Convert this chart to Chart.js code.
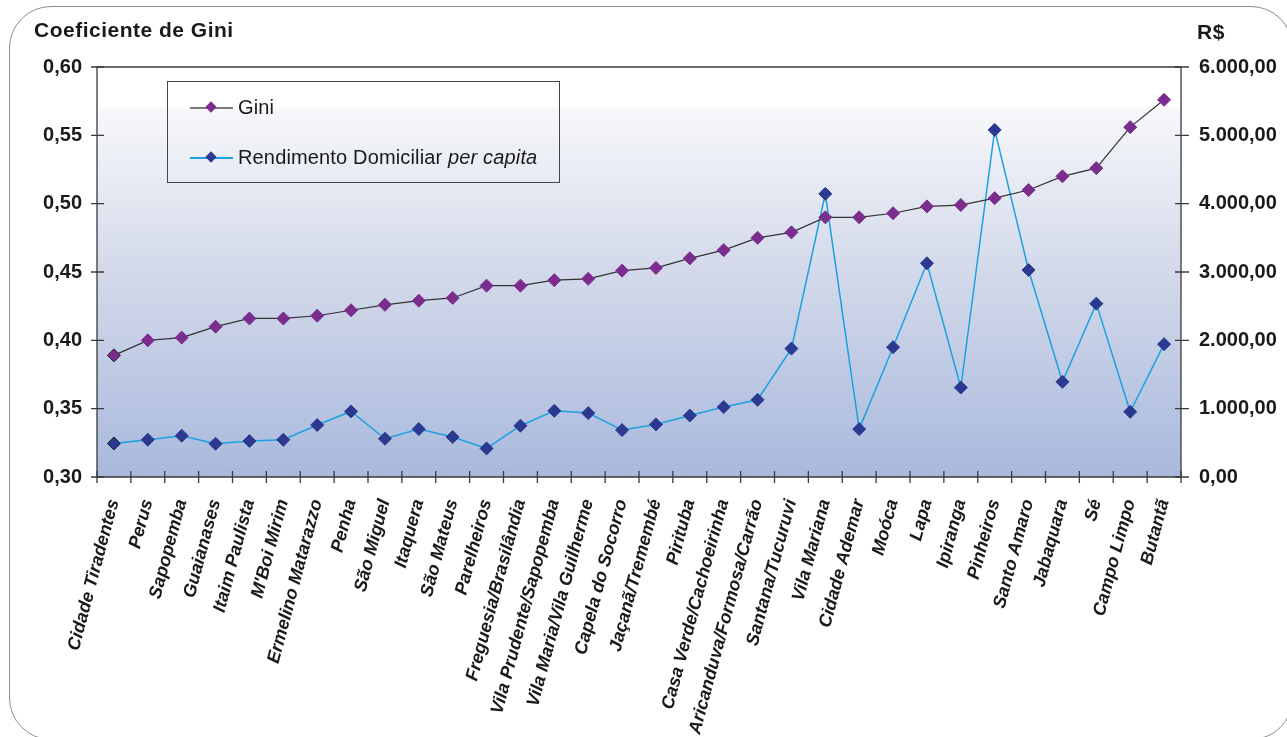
<!DOCTYPE html>
<html>
<head>
<meta charset="utf-8">
<script src="https://cdn.jsdelivr.net/npm/chart.js@4.4.1/dist/chart.umd.min.js"></script>
<style>
  body { margin: 0; background: #fff; font-family: "Liberation Sans", Arial, sans-serif; }
  #wrap { position: relative; width: 1287px; height: 737px; overflow: hidden; }
  #frame { position: absolute; left: 9px; top: 6px; width: 1284px; height: 734px; border: 1.5px solid #8c8c8c; border-radius: 42px; box-sizing: border-box; }
  #chart { position: absolute; left: 0; top: 0; }
  .ttl { position: absolute; font-weight: bold; font-size: 21px; color: #1a1a1a; line-height: 21px; letter-spacing: 0.5px; }
  #legend { position: absolute; left: 167px; top: 81px; width: 393px; height: 102px; border: 1px solid #454545; box-sizing: border-box; }
  .item { position: absolute; left: 22px; height: 20px; font-size: 20px; line-height: 20px; color: #1a1a1a; white-space: nowrap; letter-spacing: 0.15px; }
  .item .ln { position: absolute; left: 0; top: 10px; width: 43px; height: 1.5px; }
  .item .mk { position: absolute; left: 17px; top: 6px; width: 8px; height: 8px; transform: rotate(45deg); }
  .item .tx { position: absolute; left: 48px; top: 0; }
</style>
</head>
<body>
<div id="wrap">
  <div id="frame"></div>
  <canvas id="chart" width="1287" height="737"></canvas>
  <div class="ttl" style="left:34px;top:19px;">Coeficiente de Gini</div>
  <div class="ttl" style="left:1197px;top:21px;">R$</div>
  <div id="legend">
    <div class="item" style="top:15px;">
      <span class="ln" style="background:#7a7a7a"></span><span class="mk" style="background:#7b2d8e"></span>
      <span class="tx">Gini</span>
    </div>
    <div class="item" style="top:65px;">
      <span class="ln" style="background:#1ba1e2"></span><span class="mk" style="background:#2b3990"></span>
      <span class="tx">Rendimento Domiciliar <i>per capita</i></span>
    </div>
  </div>
</div>
<script>
// subprefeituras, ordenadas pelo Gini
const categorias = [
    'Cidade Tiradentes', 'Perus', 'Sapopemba', 'Guaianases', 'Itaim Paulista', "M'Boi Mirim",
    'Ermelino Matarazzo', 'Penha', 'São Miguel', 'Itaquera', 'São Mateus', 'Parelheiros',
    'Freguesia/Brasilândia', 'Vila Prudente/Sapopemba', 'Vila Maria/Vila Guilherme', 'Capela do Socorro',
    'Jaçanã/Tremembé', 'Pirituba', 'Casa Verde/Cachoeirinha', 'Aricanduva/Formosa/Carrão',
    'Santana/Tucuruvi', 'Vila Mariana', 'Cidade Ademar', 'Moóca', 'Lapa', 'Ipiranga',
    'Pinheiros', 'Santo Amaro', 'Jabaquara', 'Sé', 'Campo Limpo', 'Butantã'
];

const gini = [
    0.389, 0.400, 0.402, 0.410, 0.416, 0.416, 0.418, 0.422, 0.426, 0.429, 0.431, 0.440,
    0.440, 0.444, 0.445, 0.451, 0.453, 0.460, 0.466, 0.475, 0.479, 0.490, 0.490, 0.493,
    0.498, 0.499, 0.504, 0.510, 0.520, 0.526, 0.556, 0.576
];

// R$
const rendimento = [
    491, 545, 604, 487, 526, 545, 760, 959, 560, 701, 585, 418,
    750, 969, 935, 687, 769, 900, 1023, 1130, 1879, 4144, 701, 1900,
    3127, 1309, 5079, 3029, 1393, 2537, 954, 1944
];

const giniEixo = { min: 0.30, max: 0.60, passo: 0.05 };
const reaisEixo = { min: 0, max: 6000, passo: 1000 };

function formataReais(v) {
    const inteiro = Math.round(v).toString().replace(/\B(?=(\d{3})+(?!\d))/g, '.');
    return inteiro + ',00';
}

const corEixo = '#3a3a3a';

// fundo degradê da área do gráfico
const fundoPlugin = {
    id: 'fundo',
    beforeDatasetsDraw(chart) {
        const { ctx, chartArea: a } = chart;
        const g = ctx.createLinearGradient(0, a.top, 0, a.bottom);
        g.addColorStop(0, '#ffffff');
        g.addColorStop(0.098, '#ffffff');
        g.addColorStop(0.102, '#f7f8fb');
        g.addColorStop(0.5, '#d3d9ea');
        g.addColorStop(1, '#a9b9dd');
        ctx.save();
        ctx.fillStyle = g;
        ctx.fillRect(a.left, a.top, a.right - a.left, a.bottom - a.top);
        ctx.restore();
    }
};

// eixos com marcas cruzando a linha, como no original
const eixosPlugin = {
    id: 'eixos',
    afterDatasetsDraw(chart) {
        const { ctx, chartArea: a, scales } = chart;
        ctx.save();
        ctx.strokeStyle = corEixo;
        ctx.lineWidth = 1.3;
        ctx.beginPath();
        ctx.rect(a.left, a.top, a.right - a.left, a.bottom - a.top);
        ctx.stroke();

        ctx.beginPath();
        scales.y.ticks.forEach(t => {
            const y = scales.y.getPixelForValue(t.value);
            ctx.moveTo(a.left - 6, y); ctx.lineTo(a.left + 7, y);
        });
        scales.y1.ticks.forEach(t => {
            const y = scales.y1.getPixelForValue(t.value);
            ctx.moveTo(a.right - 6, y); ctx.lineTo(a.right + 8, y);
        });
        const passo = scales.x.getPixelForValue(1) - scales.x.getPixelForValue(0);
        for (let i = 0; i <= categorias.length; i++) {
            const x = scales.x.getPixelForValue(i) - passo / 2;
            ctx.moveTo(x, a.bottom - 6); ctx.lineTo(x, a.bottom + 6);
        }
        ctx.stroke();
        ctx.restore();
    }
};

const ctx = document.getElementById('chart').getContext('2d');
new Chart(ctx, {
    type: 'line',
    data: {
        labels: categorias,
        datasets: [{
            label: 'Gini',
            data: gini,
            yAxisID: 'y',
            borderColor: '#333333',
            borderWidth: 1.2,
            pointStyle: 'rectRot',
            pointRadius: 6.5,
            pointBackgroundColor: '#7b2d8e',
            pointBorderColor: c => c.dataIndex === 0 ? '#222' : '#7b2d8e',
            pointBorderWidth: 1,
            tension: 0
        }, {
            label: 'Rendimento Domiciliar per capita',
            data: rendimento,
            yAxisID: 'y1',
            borderColor: '#1ba1e2',
            borderWidth: 1.5,
            pointStyle: 'rectRot',
            pointRadius: 6.5,
            pointBackgroundColor: '#2b3990',
            pointBorderColor: c => c.dataIndex === 0 ? '#222' : '#2b3990',
            pointBorderWidth: 1,
            tension: 0
        }]
    },
    options: {
        responsive: false,
        animation: false,
        layout: { padding: { top: 67, left: 0, right: 0, bottom: 0 } },
        plugins: { legend: { display: false }, tooltip: { enabled: false } },
        scales: {
            x: {
                offset: true,
                grid: { display: false },
                border: { display: false },
                ticks: {
                    autoSkip: false,
                    minRotation: 75,
                    maxRotation: 75,
                    padding: 12,
                    color: '#1a1a1a',
                    font: { family: '"Liberation Sans", Arial, sans-serif', size: 18, weight: 'bold', style: 'italic' }
                },
                afterFit: s => { s.height = 260; }
            },
            y: {
                position: 'left',
                min: giniEixo.min,
                max: giniEixo.max,
                grid: { display: false, tickLength: 0 },
                border: { display: false },
                ticks: {
                    stepSize: giniEixo.passo,
                    padding: 15,
                    color: '#1a1a1a',
                    font: { family: '"Liberation Sans", Arial, sans-serif', size: 20, weight: 'bold' },
                    callback: v => v.toFixed(2).replace('.', ',')
                },
                afterFit: s => { s.width = 97; }
            },
            y1: {
                position: 'right',
                min: reaisEixo.min,
                max: reaisEixo.max,
                grid: { display: false, tickLength: 0 },
                border: { display: false },
                ticks: {
                    stepSize: reaisEixo.passo,
                    padding: 18,
                    color: '#1a1a1a',
                    font: { family: '"Liberation Sans", Arial, sans-serif', size: 20, weight: 'bold' },
                    callback: v => formataReais(v)
                },
                afterFit: s => { s.width = 106; }
            }
        }
    },
    plugins: [fundoPlugin, eixosPlugin]
});
</script>
</body>
</html>
